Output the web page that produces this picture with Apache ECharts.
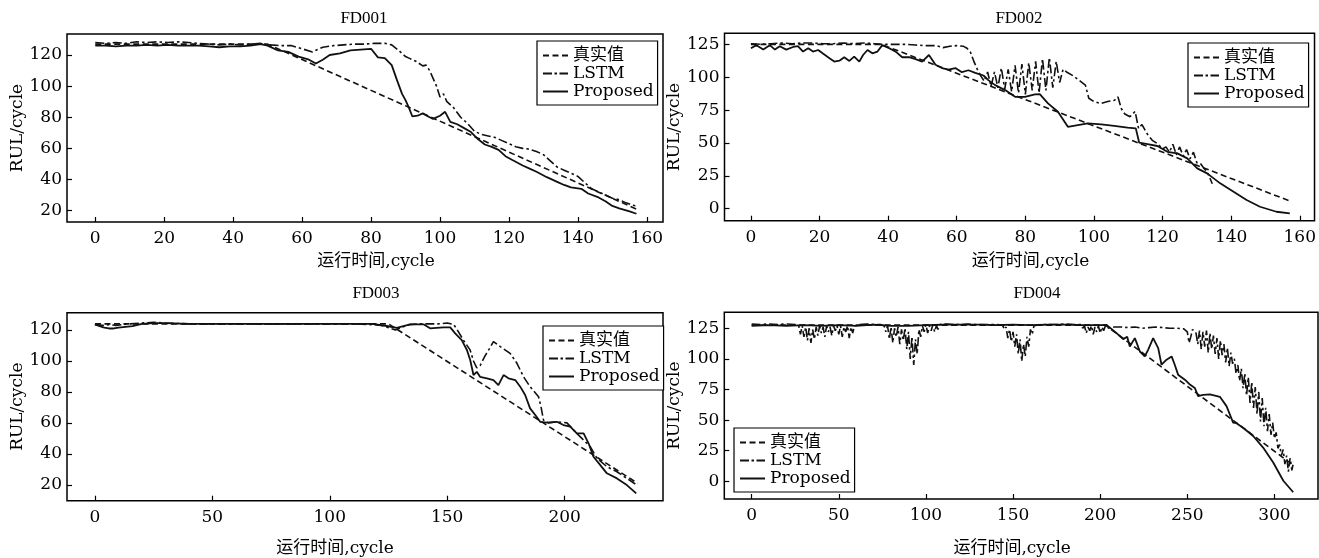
<!DOCTYPE html>
<html><head><meta charset="utf-8">
<script src="https://cdn.jsdelivr.net/npm/echarts@6/dist/echarts.min.js"></script>
<style>html,body{margin:0;padding:0;background:#fff}#c{width:1319px;height:558px}</style>
</head><body><div id="c"></div>
<script>
// ---------- data ----------
const seriesNames = ['真实值', 'LSTM', 'Proposed'];
const panelTitles = ['FD001', 'FD002', 'FD003', 'FD004'];
const xAxisName = '运行时间,cycle';
const yAxisName = 'RUL/cycle';

const xTicks1 = [0, 20, 40, 60, 80, 100, 120, 140, 160];
const yTicks1 = [20, 40, 60, 80, 100, 120];
const xTicks2 = [0, 20, 40, 60, 80, 100, 120, 140, 160];
const yTicks2 = [0, 25, 50, 75, 100, 125];
const xTicks3 = [0, 50, 100, 150, 200];
const yTicks3 = [20, 40, 60, 80, 100, 120];
const xTicks4 = [0, 50, 100, 150, 200, 250, 300];
const yTicks4 = [0, 25, 50, 75, 100, 125];

// FD001
const fd001Truth = [[0,127],[50,127],[157,21]];
const fd001Lstm = [[0,128],[3,127.5],[6,128],[9,127.5],[12,128.5],[15,128],[18,128.5],[21,128],[24,128.5],[27,128],[30,127.5],[33,127],[36,126.5],[39,127],[42,126.5],[45,127],[48,127.5],[51,126.5],[54,126],[57,126],[60,124],[63,122],[66,125],[69,126],[72,126.5],[75,127],[78,127],[81,127.5],[84,127.5],[86,126.5],[88,123],[90,119],[91,118],[93,116],[95,113],[96,113.5],[97,110],[98,105],[99,100],[100,93],[101,95],[102,90],[104,86],[106,80],[108,76],[110,71],[112,69],[114,68],[116,67],[118,65],[120,63],[122,61],[124,60],[126,59.5],[128,58],[130,56],[132,52],[134,48],[136,46],[138,44],[140,42],[142,38],[144,34],[146,32],[148,30],[150,28],[152,27],[154,25],[156,23.5],[157,23]];
const fd001Prop = [[0,126],[3,126],[6,125.5],[9,126],[12,126],[15,126.5],[18,126],[21,126.5],[24,126],[27,126],[30,126],[33,125.5],[36,125],[39,125.5],[42,125.5],[45,126],[48,127],[50,126],[53,123],[56,122],[59,119],[62,117],[64,114.5],[66,117],[68,120],[71,121],[74,123],[77,123.5],[80,124],[82,118.5],[84,118],[86,113.5],[87.5,104],[89,95],[90,91],[91,86],[92,80.5],[93.5,81],[95,82.5],[97,80],[98,79],[100,81],[101.5,83.5],[103,77],[105,75.5],[107,73],[109,70.5],[111,66],[113,62.5],[115,61],[117,59],[119,55],[121,52.5],[124,49],[126,47],[128,45],[131,41.5],[134,38.5],[136,36.5],[138,35],[141,34],[143,31],[146,28.5],[148,26],[150,23],[152,21.5],[155,19.5],[157,18]];

// FD002
const fd002Truth = [[0,125],[38,125],[157,6]];
const fd002Lstm = [[0,125.5],[3,125],[6,125.5],[9,126],[12,125.5],[15,126],[18,126],[21,125.5],[24,125.5],[27,126],[30,125.5],[33,126],[36,125.5],[39,125],[42,125],[45,125],[48,124.5],[51,124],[54,124],[56,122.5],[58,123.5],[60,124],[62,123.5],[63,122],[64,119],[65,112],[66,106],[67,101],[68,97],[69,104],[70,93],[71,104],[72,92],[73,107],[74,91],[75,106],[76,89],[77,109],[78,88],[79,110],[80,87],[81,111],[82,90],[83,112],[84,88],[85,114],[86,90],[87,115],[88,92],[89,112],[90,96],[91,106],[92,104],[94,101],[96,97],[97.5,94],[98.5,84],[100,81.5],[102,80],[104,81.5],[106,82.5],[107,85],[108,76],[109,72],[110.5,70],[112,74],[113,61],[114,64],[115.5,57],[117,52],[118.5,49.5],[120,45.5],[121,47],[122,43],[123,49],[124,41],[125,47],[126,40],[127,45],[128,38],[129,43],[130,35],[131,34.5],[132,31],[133,28],[134,22],[134.5,19]];
const fd002Prop = [[0,122],[1.6,124.4],[3.6,121],[5.5,124.4],[7,121],[8.4,123.6],[10.3,121],[12.3,123],[13.7,123.6],[15.2,119.5],[16.7,122],[18.1,119.5],[19.6,120.7],[21,118],[22.9,114.4],[24.3,111.9],[25.8,112.6],[27.2,115.2],[28.7,112.4],[30.1,115.7],[31.6,111.9],[32.7,116.9],[34,120.7],[35.4,118.2],[36.9,119.5],[38.3,124.4],[40.3,122],[42.2,119.5],[44.1,115.2],[46.1,115.2],[48,113.7],[49.9,111.9],[51.9,116.9],[53.8,109.5],[55.7,107],[57.6,105.7],[59.6,107],[61.5,103.8],[63.4,105.3],[65.4,103.3],[67.8,101.3],[69.2,97.8],[71.2,94],[74.1,90.2],[77,85.1],[79.9,85.1],[82.8,86.9],[84.2,87.2],[86.6,80.1],[89.5,73.7],[92.4,62.3],[95.3,63.6],[98.2,64.9],[102.1,64.1],[105.9,63],[109.8,61.6],[112.2,61.1],[113.2,50.2],[115.6,49.2],[118.5,47.7],[121.4,43.3],[124.3,42.1],[127.2,38.3],[130.1,30.7],[133,26.9],[136.8,19.3],[140.7,12.9],[144.5,6.6],[148.4,1.5],[153.2,-2.3],[157.1,-3.5]];

// FD003
const fd003Truth = [[0,124],[125,124],[231,21]];
const fd003Lstm = [[0,123.5],[3,123],[6,123.5],[9,123],[12,123.5],[15,124],[20,124.5],[25,125],[30,124.5],[40,124],[50,124],[60,124],[70,124],[80,124],[90,124],[100,124],[110,124],[118,123.5],[122,123],[125,121.5],[128,120],[131,122],[134,123.5],[138,124],[142,124],[146,124],[150,124.5],[152.7,123.7],[154.1,120.6],[156.9,113.5],[159.8,107],[161.2,100],[162.6,95.5],[164,97],[166,103],[168,108],[169.7,112.5],[172.6,109.3],[176.8,104.9],[179.7,98.5],[182.5,89.8],[185.3,83.4],[188.9,76.9],[190,70],[191,61.8],[193.1,60],[196.7,60.7],[201,60],[205.2,53.2],[208,49],[210.9,44.6],[213.8,37.1],[218,31.7],[222.3,28.4],[226.5,24.1],[230.1,20.5]];
const fd003Prop = [[0,123.7],[2,122.5],[4,121.5],[6,121],[8,121],[10,121.5],[13,122],[16,122.5],[20,124],[25,124.5],[30,124.5],[40,124],[50,124],[60,124],[70,124],[80,124],[90,124],[100,124],[110,124],[118,124],[124.3,122.6],[128.5,121.4],[134.2,123.7],[139.9,123.7],[142.7,121.1],[148.4,121.7],[151.3,121.7],[153.4,117.8],[156.2,113.5],[158.4,107.1],[159.8,100.6],[161.2,90.9],[162.6,93],[164,89.8],[166.9,88.8],[169.7,87.7],[171.8,84.4],[174,90.9],[176.1,88.8],[179,87.7],[181.1,83.4],[183.2,78],[185.3,69.4],[187.5,65.1],[189.6,60.7],[192.5,60.1],[196.7,60.7],[199.5,58.6],[202.4,57.5],[205.2,53.2],[208.1,53.2],[210.2,46.8],[212.3,38.1],[215.2,32.7],[218,27.4],[222.3,24.1],[226.5,19.8],[230.5,14.4]];

// FD004
const fd004Truth = [[0,127.5],[203,127.5],[310,14]];
const fd004Lstm = [[0,128.5],[5,128],[10,128.5],[15,128],[20,128.5],[25,128],[27,127],[28,120],[29,127],[30,118],[31,126],[32,115],[33,125],[34,113],[35,124],[36,116],[37,126],[38,119],[39,127],[40,121],[41,126],[42,118],[43,127],[44,122],[45,126],[46,119],[47,127],[48,123],[49,127],[50,120],[51,127],[52,118],[53,126],[54,122],[55,127],[56,117],[57,126],[58,121],[59,127],[62,128],[66,128.5],[70,128],[74,128],[76,127],[77,122],[78,127],[79,116],[80,126],[81,113],[82,125],[83,118],[84,126],[85,112],[86,124],[87,115],[88,125],[89,108],[90,122],[91,100],[92,118],[93,95],[94,116],[95,104],[96,124],[97,118],[98,127],[99,122],[100,128],[101,121],[102,127],[103,123],[104,128],[105,122],[106,127],[107,124],[108,128],[112,128.5],[116,128],[120,128],[124,128.5],[128,128],[132,128],[136,128],[140,128],[144,127.5],[145,124],[146,126],[147,117],[148,124],[149,114],[150,122],[151,110],[152,120],[153,104],[154,116],[155,98],[156,112],[157,102],[158,118],[159,110],[160,124],[161,120],[162,127],[166,128],[170,128],[175,128],[180,128.5],[185,128],[189,128],[190,125],[191,127],[192,121],[193,126],[194,123],[195,127],[196,120],[197,126],[198,122],[199,127],[200,121],[201,126],[202,123],[203,127],[204,125],[208,126],[212,126],[216,125.5],[220,126],[224,125],[228,125.5],[232,126],[236,125.5],[240,125],[244,125],[248,124.5],[250,122],[251,113],[252,118],[253,124],[255,121],[256,112],[257,123],[258,108],[259,122],[260,110],[261,123],[262,105],[263,121],[264,108],[265,119],[266,104],[267,117],[268,100],[269,115],[270,103],[271,112],[272,97],[273,109],[274,94],[275,105],[276,96],[277,100],[278,88],[279,95],[280,82],[281,92],[282,76],[283,88],[284,70],[285,85],[286,64],[287,81],[288,60],[289,77],[290,55],[291,73],[292,49],[293,68],[294,45],[295,60],[296,41],[297,55],[298,38],[299,48],[300,35],[301,40],[302,27],[303,30],[304,21],[305,26],[306,14],[307,21],[308,8],[309,19],[310,9],[311,16]];
const fd004Prop = [[0,127],[10,127.5],[20,127],[30,127.5],[40,127],[50,127.5],[60,127],[70,128],[80,127],[90,127],[100,127.5],[110,128],[120,128],[130,128],[140,127.5],[150,128],[160,127.5],[170,128],[180,128],[190,127.5],[200,127.5],[203.7,127.7],[209.4,121],[213.2,116.1],[215.5,118],[217,110.1],[219.9,116.9],[222.8,106],[225.6,102],[227.5,107.4],[230.4,116.9],[233.3,108.8],[235.2,95.2],[238.1,99.3],[241,102],[242.8,95.2],[244.7,87.1],[248.6,83],[251.5,79],[254.3,76.3],[256.2,69.5],[259.1,70.6],[263,71],[268.7,69],[272.5,61.4],[276.3,48],[278.2,47.5],[282,43.8],[287.8,37],[293.5,27.6],[299.3,15.4],[305.1,0.5],[310.8,-8.9]];

// ---------- layout ----------
const FONT = "'DejaVu Serif', 'Noto Sans CJK SC', serif";
const panels = [
  {grid:{left:67, top:34, width:596, height:188}, x:[-8.2,164.7], y:[12.7,133.5], xt:xTicks1, yt:yTicks1,
   title:[364,10], legend:{left:537, top:41}, xGap:31, xPad:[0,0,0,22], yGap:40,
   data:[fd001Truth, fd001Lstm, fd001Prop]},
  {grid:{left:724.5, top:33.3, width:593.5, height:187.4}, x:[-7.7,164.3], y:[-9.1,133.4], xt:xTicks2, yt:yTicks2,
   title:[1019,10], legend:{left:1188, top:43}, xGap:32, xPad:[0,0,0,22], yGap:40,
   data:[fd002Truth, fd002Lstm, fd002Prop]},
  {grid:{left:67, top:312.7, width:596, height:188}, x:[-11.9,241.9], y:[9.7,131.2], xt:xTicks3, yt:yTicks3,
   title:[376,285], legend:{left:543, top:326}, xGap:39, xPad:[0,60,0,0], yGap:40,
   data:[fd003Truth, fd003Lstm, fd003Prop]},
  {grid:{left:724.3, top:312.3, width:593.7, height:187.7}, x:[-15.7,325], y:[-14.4,138], xt:xTicks4, yt:yTicks4,
   title:[1037,285], legend:{left:734, top:428}, xGap:41, xPad:[0,18,0,0], yGap:40,
   data:[fd004Truth, fd004Lstm, fd004Prop]}
];
const lineStyles = [
  {color:'#111', width:1.6, type:[6,3.5]},
  {color:'#111', width:1.6, type:[9,3,2.5,3]},
  {color:'#111', width:1.8, type:'solid'}
];
const legendIcons = [
  'path://M0,0h6v2h-6zM9.5,0h6v2h-6zM19,0h6v2h-6z',
  'path://M0,0h9v2h-9zM11.5,0h2.5v2h-2.5zM16.5,0h8.5v2h-8.5z',
  'path://M0,0h25v2h-25z'
];

const option = {
  backgroundColor:'#fff',
  animation:false,
  title: panels.map((p,i)=>({text:panelTitles[i], left:p.title[0], top:p.title[1], textAlign:'center', padding:0,
    textStyle:{fontFamily:"'Liberation Serif', serif", fontSize:17, fontWeight:'normal', color:'#000'}})),
  grid: panels.map(p=>Object.assign({show:true, borderColor:'#000', borderWidth:1.5, backgroundColor:'transparent'}, p.grid)),
  legend: panels.map(p=>({left:p.legend.left, top:p.legend.top, orient:'vertical',
    data:seriesNames.map((n,k)=>({name:n, icon:legendIcons[k]})),
    itemWidth:25, itemHeight:2, itemGap:1, padding:[6,4,5,6], borderColor:'#000', borderWidth:1.2,
    backgroundColor:'#fff', selectedMode:false, itemStyle:{color:'#111', borderWidth:0},
    textStyle:{fontFamily:FONT, fontSize:17, color:'#000', height:17, lineHeight:17}})),
  xAxis: panels.map((p,i)=>({type:'value', gridIndex:i, min:p.x[0], max:p.x[1],
    name:xAxisName, nameLocation:'middle', nameGap:p.xGap,
    nameTextStyle:{fontFamily:FONT, fontSize:17, color:'#000', padding:p.xPad},
    axisLine:{show:false, onZero:false}, splitLine:{show:false},
    axisTick:{show:true, inside:true, length:5, customValues:p.xt, lineStyle:{color:'#000', width:1.2}},
    axisLabel:{customValues:p.xt, margin:8, fontFamily:FONT, fontSize:17, color:'#000'}})),
  yAxis: panels.map((p,i)=>({type:'value', gridIndex:i, min:p.y[0], max:p.y[1],
    name:yAxisName, nameLocation:'middle', nameGap:p.yGap,
    nameTextStyle:{fontFamily:FONT, fontSize:17, color:'#000'},
    axisLine:{show:false, onZero:false}, splitLine:{show:false},
    axisTick:{show:true, inside:true, length:5, customValues:p.yt, lineStyle:{color:'#000', width:1.2}},
    axisLabel:{customValues:p.yt, margin:5, fontFamily:FONT, fontSize:17, color:'#000'}})),
  series: []
};
panels.forEach((p,i)=>{
  p.data.forEach((d,k)=>{
    option.series.push({type:'line', name:seriesNames[k], xAxisIndex:i, yAxisIndex:i, data:d,
      symbol:'none', showSymbol:false, lineStyle:lineStyles[k], itemStyle:{color:'#111'},
      z: 3-k, clip:true, silent:true});
  });
});
const chart = echarts.init(document.getElementById('c'), null, {renderer:'canvas'});
chart.setOption(option);
</script>
</body></html>
